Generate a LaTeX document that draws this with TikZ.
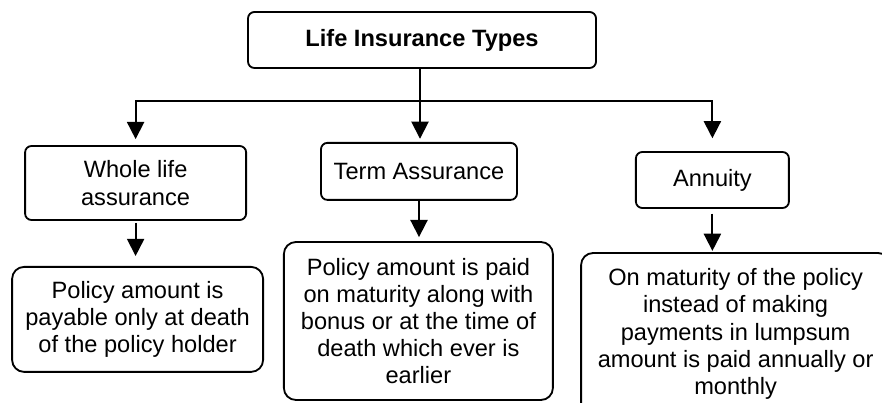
\documentclass[tikz,border=0pt]{standalone}
\usepackage{fontspec}
\setmainfont{Liberation Sans}
\usepackage{tikz}
\usetikzlibrary{positioning, arrows.meta}

\begin{document}
\begin{tikzpicture}[
    block/.style={rectangle, draw, line width=1.3pt, align=center, inner sep=0pt,
        font=\fontsize{16.8}{19.3}\selectfont},
    typebox/.style={block, rounded corners=0.16cm},
    descbox/.style={block, rounded corners=0.3cm},
    arrow/.style={-{Triangle[width=0.43cm, length=0.43cm]}, line width=1.3pt},
]
\useasboundingbox (0,0) rectangle (22.05,10.075);
\clip (0,0) rectangle (22.05,10.075);

% Title
\node[typebox, minimum width=8.7cm, minimum height=1.4cm] (title) at (10.55, 9.075) {\textbf{Life Insurance Types}};

% Types
\node[typebox, minimum width=5.525cm, minimum height=1.85cm] (whole) at (3.39, 5.5) {Whole life\\assurance};
\node[typebox, minimum width=4.9cm, minimum height=1.425cm] (term) at (10.475, 5.79) {Term Assurance};
\node[typebox, minimum width=3.825cm, minimum height=1.4cm] (annuity) at (17.81, 5.575) {Annuity};

% Descriptions
\node[descbox, minimum width=6.275cm, minimum height=2.625cm] (whole_desc) at (3.44, 2.09)
    {Policy amount is\\payable only at death\\of the policy holder};
\node[descbox, minimum width=6.725cm, minimum height=3.95cm] (term_desc) at (10.46, 2.05)
    {Policy amount is paid\\on maturity along with\\bonus or at the time of\\death which ever is\\earlier};
\node[descbox, minimum width=7.725cm, minimum height=4.05cm] (annuity_desc) at (18.39, 1.725)
    {On maturity of the policy\\instead of making\\payments in lumpsum\\amount is paid annually or\\monthly};

% Branching
\coordinate (hub) at (10.5, 7.55);
\draw[line width=1.3pt] (title.south -| hub) -- (hub);
\draw[arrow, shorten >=0.08cm] (hub) -- (term.north -| hub);
\draw[arrow, shorten >=0.15cm] (hub) -| (whole.north);
\draw[arrow, shorten >=0.32cm] (hub) -| (annuity.north);

% Type to description
\draw[arrow, shorten <=0.05cm, shorten >=0.25cm] (whole) -- (whole.south |- whole_desc.north);
\draw[arrow, shorten >=0.1cm] (term) -- (term.south |- term_desc.north);
\draw[arrow, shorten <=0.12cm, shorten >=0.03cm] (annuity) -- (annuity.south |- annuity_desc.north);

\end{tikzpicture}
\end{document}
